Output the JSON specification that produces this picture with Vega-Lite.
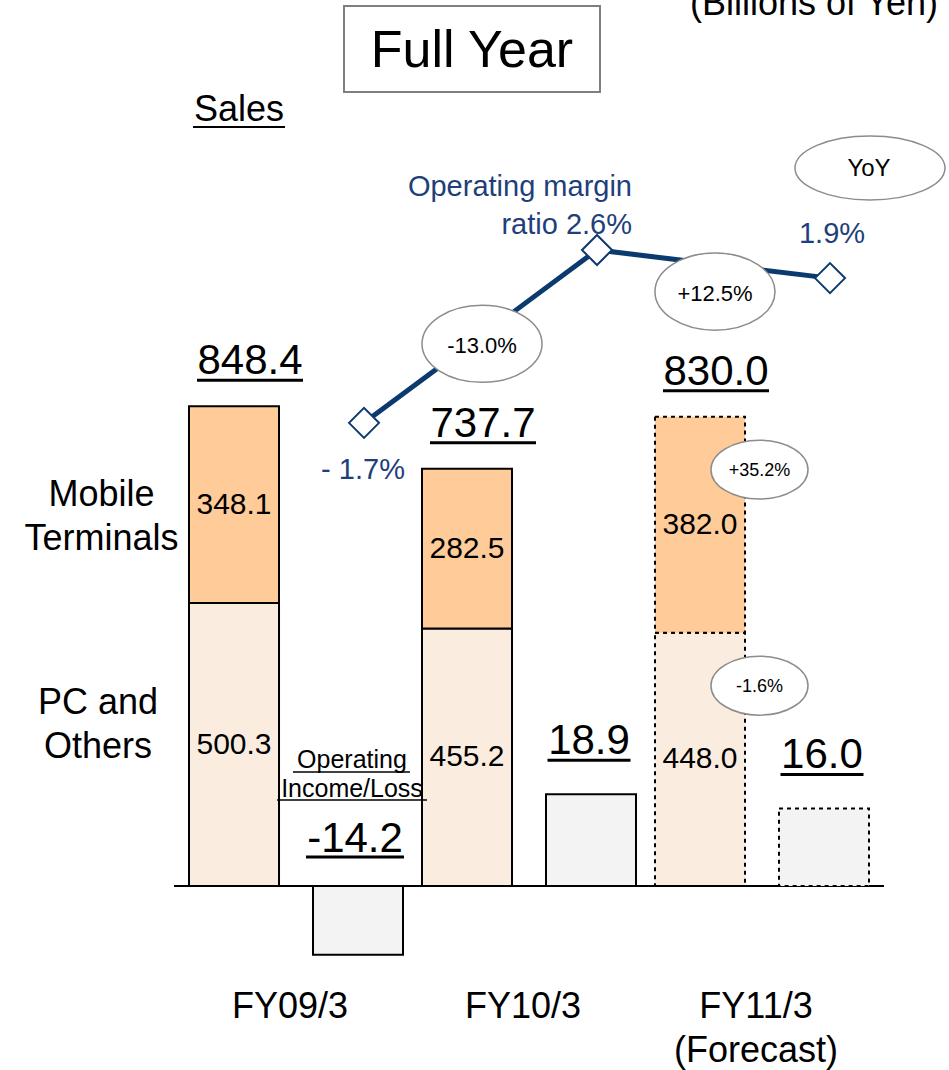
{
  "$schema": "https://vega.github.io/schema/vega-lite/v6.json",
  "width": 710,
  "height": 960,
  "autosize": {"type": "none"},
  "padding": {"left": 174, "top": 0, "right": 65, "bottom": 110},
  "background": "white",
  "config": {
    "font": "Liberation Sans",
    "view": {"stroke": null},
    "locale": {"number": {"decimal": ".", "thousands": ",", "grouping": [3], "currency": ["$", ""], "minus": "-"}}
  },
  "datasets": {
    "sales": [
      {"year": "FY09/3", "series": "Sales", "segment": "PC and\nOthers", "value": 500.3, "status": "Actual"},
      {"year": "FY09/3", "series": "Sales", "segment": "Mobile\nTerminals", "value": 348.1, "status": "Actual"},
      {"year": "FY10/3", "series": "Sales", "segment": "PC and\nOthers", "value": 455.2, "status": "Actual"},
      {"year": "FY10/3", "series": "Sales", "segment": "Mobile\nTerminals", "value": 282.5, "status": "Actual"},
      {"year": "FY11/3", "series": "Sales", "segment": "PC and\nOthers", "value": 448.0, "status": "Forecast", "yoy": "-1.6%"},
      {"year": "FY11/3", "series": "Sales", "segment": "Mobile\nTerminals", "value": 382.0, "status": "Forecast", "yoy": "+35.2%"}
    ],
    "totals": [
      {"year": "FY09/3", "total": 848.4, "status": "Actual"},
      {"year": "FY10/3", "total": 737.7, "status": "Actual", "yoy": "-13.0%"},
      {"year": "FY11/3", "total": 830.0, "status": "Forecast", "yoy": "+12.5%"}
    ],
    "income": [
      {"year": "FY09/3", "series": "Operating Income/Loss", "value": -14.2, "status": "Actual"},
      {"year": "FY10/3", "series": "Operating Income/Loss", "value": 18.9, "status": "Actual"},
      {"year": "FY11/3", "series": "Operating Income/Loss", "value": 16.0, "status": "Forecast"}
    ],
    "margin": [
      {"year": "FY09/3", "ratio": -1.7, "label": "- 1.7%"},
      {"year": "FY10/3", "ratio": 2.6, "label": "Operating margin\nratio 2.6%"},
      {"year": "FY11/3", "ratio": 1.9, "label": "1.9%"}
    ]
  },
  "resolve": {"scale": {"y": "independent"}},
  "layer": [
    {
      "layer": [
        {
          "data": {"name": "sales"},
          "transform": [{"stack": "value", "groupby": ["year"], "sort": [{"field": "segment", "order": "descending"}], "as": ["v0", "v1"]}],
          "mark": {"type": "bar", "stroke": "black", "strokeWidth": 2},
          "encoding": {
            "x": {"field": "year", "type": "nominal", "title": null, "sort": null,
              "scale": {"domain": ["FY09/3", "FY10/3", "FY11/3"], "paddingInner": 0.0815, "paddingOuter": 0.0644},
              "axis": {"domain": false, "ticks": false, "tickSize": 0, "grid": false, "labelAngle": 0, "labelFontSize": 36, "labelColor": "black", "labelPadding": 29, "labelLineHeight": 44, "labelOffset": -6, "labelLimit": 0,
                "labelExpr": "datum.value == 'FY11/3' ? ['FY11/3', '(Forecast)'] : datum.label"}},
            "xOffset": {"field": "series", "type": "nominal", "scale": {"domain": ["Sales", "Operating Income/Loss"], "paddingInner": 0.274, "paddingOuter": 0}},
            "y": {"field": "v0", "type": "quantitative", "scale": {"domain": [-130.86, 1566.75], "nice": false, "zero": false}, "axis": null},
            "y2": {"field": "v1"},
            "fill": {"field": "segment", "type": "nominal", "scale": {"domain": ["Mobile\nTerminals", "PC and\nOthers"], "range": ["#FFCC99", "#FAEDE0"]}, "legend": null},
            "strokeDash": {"field": "status", "type": "nominal", "scale": {"domain": ["Actual", "Forecast"], "range": [[1, 0], [4, 4]]}, "legend": null}
          }
        },
        {
          "data": {"values": [{"base": 0}]},
          "mark": {"type": "rule", "color": "black", "strokeWidth": 2},
          "encoding": {
            "y": {"field": "base", "type": "quantitative", "scale": {"domain": [-130.86, 1566.75], "nice": false, "zero": false}, "axis": null}
          }
        },
        {
          "data": {"name": "sales"},
          "transform": [
            {"stack": "value", "groupby": ["year"], "sort": [{"field": "segment", "order": "descending"}], "as": ["v0", "v1"]},
            {"fold": ["v0", "v1"], "as": ["edge", "pos"]}
          ],
          "mark": {"type": "text", "fontSize": 30, "baseline": "middle", "dx": -62},
          "encoding": {
            "x": {"field": "year", "type": "nominal", "title": null},
            "y": {"aggregate": "mean", "field": "pos", "type": "quantitative", "scale": {"domain": [-130.86, 1566.75], "nice": false, "zero": false}, "axis": null},
            "text": {"field": "value", "type": "quantitative", "format": ".1f"}
          }
        },
        {
          "data": {"name": "sales"},
          "transform": [{"filter": {"and": [{"field": "year", "equal": "FY09/3"}, {"field": "segment", "equal": "Mobile\nTerminals"}]}}],
          "mark": {"type": "text", "fontSize": 36, "baseline": "alphabetic", "lineBreak": "\n", "lineHeight": 44, "dx": -194.5},
          "encoding": {
            "x": {"field": "year", "type": "nominal", "title": null},
            "y": {"datum": 672.0, "type": "quantitative", "scale": {"domain": [-130.86, 1566.75], "nice": false, "zero": false}, "axis": null},
            "text": {"field": "segment", "type": "nominal"}
          }
        },
        {
          "data": {"name": "sales"},
          "transform": [{"filter": {"and": [{"field": "year", "equal": "FY09/3"}, {"field": "segment", "equal": "PC and\nOthers"}]}}],
          "mark": {"type": "text", "fontSize": 36, "baseline": "alphabetic", "lineBreak": "\n", "lineHeight": 44, "dx": -198},
          "encoding": {
            "x": {"field": "year", "type": "nominal", "title": null},
            "y": {"datum": 304.2, "type": "quantitative", "scale": {"domain": [-130.86, 1566.75], "nice": false, "zero": false}, "axis": null},
            "text": {"field": "segment", "type": "nominal"}
          }
        },
        {
          "data": {"name": "totals"},
          "mark": {"type": "text", "fontSize": 42, "baseline": "alphabetic", "dx": -46, "dy": -32},
          "encoding": {
            "x": {"field": "year", "type": "nominal", "title": null},
            "y": {"field": "total", "type": "quantitative", "scale": {"domain": [-130.86, 1566.75], "nice": false, "zero": false}, "axis": null},
            "text": {"field": "total", "type": "quantitative", "format": ".1f"}
          }
        },
        {
          "data": {"name": "totals"},
          "mark": {"type": "tick", "color": "black", "opacity": 1, "thickness": 3, "size": 106, "xOffset": -46, "yOffset": -26},
          "encoding": {
            "x": {"field": "year", "type": "nominal", "title": null},
            "y": {"field": "total", "type": "quantitative", "scale": {"domain": [-130.86, 1566.75], "nice": false, "zero": false}, "axis": null}
          }
        },
        {
          "data": {"name": "sales"},
          "transform": [
            {"stack": "value", "groupby": ["year"], "sort": [{"field": "segment", "order": "descending"}], "as": ["v0", "v1"]},
            {"filter": "isValid(datum.yoy)"}
          ],
          "mark": {"type": "point", "shape": "M-1,0A1,0.608,0,1,1,1,0A1,0.608,0,1,1,-1,0Z", "size": 9409, "filled": true, "fill": "white", "stroke": "#8C8C8C", "strokeWidth": 1.5, "opacity": 1, "xOffset": -2.5, "yOffset": 53},
          "encoding": {
            "x": {"field": "year", "type": "nominal", "title": null},
            "y": {"field": "v1", "type": "quantitative", "scale": {"domain": [-130.86, 1566.75], "nice": false, "zero": false}, "axis": null}
          }
        },
        {
          "data": {"name": "sales"},
          "transform": [
            {"stack": "value", "groupby": ["year"], "sort": [{"field": "segment", "order": "descending"}], "as": ["v0", "v1"]},
            {"filter": "isValid(datum.yoy)"}
          ],
          "mark": {"type": "text", "fontSize": 18, "baseline": "middle", "dx": -2.5, "dy": 54.5},
          "encoding": {
            "x": {"field": "year", "type": "nominal", "title": null},
            "y": {"field": "v1", "type": "quantitative", "scale": {"domain": [-130.86, 1566.75], "nice": false, "zero": false}, "axis": null},
            "text": {"field": "yoy", "type": "nominal"}
          }
        },
        {
          "data": {"values": [{"note": "Full Year"}]},
          "mark": {"type": "point", "shape": "M-1,-0.336H1V0.336H-1Z", "size": 65536, "filled": true, "fill": "white", "stroke": "#7F7F7F", "strokeWidth": 2, "opacity": 1, "xOffset": -57},
          "encoding": {
            "x": {"datum": "FY10/3", "type": "nominal"},
            "y": {"datum": 1480.1, "type": "quantitative", "scale": {"domain": [-130.86, 1566.75], "nice": false, "zero": false}, "axis": null}
          }
        },
        {
          "data": {"values": [{"note": "Full Year"}]},
          "mark": {"type": "text", "fontSize": 52, "baseline": "alphabetic", "dx": -57},
          "encoding": {
            "x": {"datum": "FY10/3", "type": "nominal"},
            "y": {"datum": 1448.3, "type": "quantitative", "scale": {"domain": [-130.86, 1566.75], "nice": false, "zero": false}, "axis": null},
            "text": {"field": "note", "type": "nominal"}
          }
        },
        {
          "data": {"values": [{"note": "(Billions of Yen)"}]},
          "mark": {"type": "text", "fontSize": 36, "baseline": "alphabetic", "dx": 52},
          "encoding": {
            "x": {"datum": "FY11/3", "type": "nominal"},
            "y": {"datum": 1540.2, "type": "quantitative", "scale": {"domain": [-130.86, 1566.75], "nice": false, "zero": false}, "axis": null},
            "text": {"field": "note", "type": "nominal"}
          }
        },
        {
          "data": {"values": [{"note": "Sales"}]},
          "mark": {"type": "text", "fontSize": 36, "baseline": "alphabetic", "dx": -57},
          "encoding": {
            "x": {"datum": "FY09/3", "type": "nominal"},
            "y": {"datum": 1352.8, "type": "quantitative", "scale": {"domain": [-130.86, 1566.75], "nice": false, "zero": false}, "axis": null},
            "text": {"field": "note", "type": "nominal"}
          }
        },
        {
          "data": {"values": [{"note": "Sales"}]},
          "mark": {"type": "tick", "color": "black", "opacity": 1, "thickness": 2, "size": 92, "xOffset": -57, "yOffset": 6},
          "encoding": {
            "x": {"datum": "FY09/3", "type": "nominal"},
            "y": {"datum": 1352.8, "type": "quantitative", "scale": {"domain": [-130.86, 1566.75], "nice": false, "zero": false}, "axis": null}
          }
        },
        {
          "data": {"values": [{"note": "Operating\nIncome/Loss"}]},
          "mark": {"type": "text", "fontSize": 25, "baseline": "alphabetic", "lineBreak": "\n", "lineHeight": 29, "dx": 56},
          "encoding": {
            "x": {"datum": "FY09/3", "type": "nominal"},
            "y": {"datum": 208.7, "type": "quantitative", "scale": {"domain": [-130.86, 1566.75], "nice": false, "zero": false}, "axis": null},
            "text": {"field": "note", "type": "nominal"}
          }
        },
        {
          "data": {"values": [{"note": "Operating"}]},
          "mark": {"type": "tick", "color": "black", "opacity": 1, "thickness": 1.5, "size": 117, "xOffset": 55.5, "yOffset": 4},
          "encoding": {
            "x": {"datum": "FY09/3", "type": "nominal"},
            "y": {"datum": 208.7, "type": "quantitative", "scale": {"domain": [-130.86, 1566.75], "nice": false, "zero": false}, "axis": null}
          }
        },
        {
          "data": {"values": [{"note": "Income/Loss"}]},
          "mark": {"type": "tick", "color": "black", "opacity": 1, "thickness": 1.5, "size": 150, "xOffset": 56, "yOffset": 32},
          "encoding": {
            "x": {"datum": "FY09/3", "type": "nominal"},
            "y": {"datum": 208.7, "type": "quantitative", "scale": {"domain": [-130.86, 1566.75], "nice": false, "zero": false}, "axis": null}
          }
        },
        {
          "data": {"values": [{"note": "YoY"}]},
          "mark": {"type": "point", "shape": "M-1,0A1,0.4267,0,1,1,1,0A1,0.4267,0,1,1,-1,0Z", "size": 22500, "filled": true, "fill": "white", "stroke": "#8C8C8C", "strokeWidth": 1.5, "opacity": 1, "xOffset": 108},
          "encoding": {
            "x": {"datum": "FY11/3", "type": "nominal"},
            "y": {"datum": 1269.7, "type": "quantitative", "scale": {"domain": [-130.86, 1566.75], "nice": false, "zero": false}, "axis": null}
          }
        },
        {
          "data": {"values": [{"note": "YoY"}]},
          "mark": {"type": "text", "fontSize": 24, "baseline": "middle", "dx": 107, "dy": 1.5},
          "encoding": {
            "x": {"datum": "FY11/3", "type": "nominal"},
            "y": {"datum": 1269.7, "type": "quantitative", "scale": {"domain": [-130.86, 1566.75], "nice": false, "zero": false}, "axis": null},
            "text": {"field": "note", "type": "nominal"}
          }
        }
      ]
    },
    {
      "layer": [
        {
          "data": {"name": "income"},
          "mark": {"type": "bar", "fill": "#F3F3F3", "stroke": "black", "strokeWidth": 2},
          "encoding": {
            "x": {"field": "year", "type": "nominal", "title": null},
            "xOffset": {"field": "series", "type": "nominal", "scale": {"domain": ["Sales", "Operating Income/Loss"], "paddingInner": 0.274, "paddingOuter": 0}},
            "y": {"field": "value", "type": "quantitative", "scale": {"domain": [-15.258, 182.68], "nice": false, "zero": false}, "axis": null},
            "y2": {"datum": 0},
            "strokeDash": {"field": "status", "type": "nominal", "scale": {"domain": ["Actual", "Forecast"], "range": [[1, 0], [4, 4]]}, "legend": null}
          }
        },
        {
          "data": {"name": "income"},
          "transform": [{"filter": {"field": "value", "gt": 0}}],
          "mark": {"type": "text", "fontSize": 42, "baseline": "alphabetic", "dx": 60, "dy": -40},
          "encoding": {
            "x": {"field": "year", "type": "nominal", "title": null},
            "y": {"field": "value", "type": "quantitative", "scale": {"domain": [-15.258, 182.68], "nice": false, "zero": false}, "axis": null},
            "text": {"field": "value", "type": "quantitative", "format": ".1f"}
          }
        },
        {
          "data": {"name": "income"},
          "transform": [{"filter": {"field": "value", "gt": 0}}],
          "mark": {"type": "tick", "color": "black", "opacity": 1, "thickness": 3, "size": 83, "xOffset": 60, "yOffset": -34},
          "encoding": {
            "x": {"field": "year", "type": "nominal", "title": null},
            "y": {"field": "value", "type": "quantitative", "scale": {"domain": [-15.258, 182.68], "nice": false, "zero": false}, "axis": null}
          }
        },
        {
          "data": {"name": "income"},
          "transform": [{"filter": {"field": "value", "lt": 0}}],
          "mark": {"type": "text", "fontSize": 42, "baseline": "alphabetic", "dx": 59, "dy": -34},
          "encoding": {
            "x": {"field": "year", "type": "nominal", "title": null},
            "y": {"datum": 0, "type": "quantitative", "scale": {"domain": [-15.258, 182.68], "nice": false, "zero": false}, "axis": null},
            "text": {"field": "value", "type": "quantitative", "format": ".1f"}
          }
        },
        {
          "data": {"name": "income"},
          "transform": [{"filter": {"field": "value", "lt": 0}}],
          "mark": {"type": "tick", "color": "black", "opacity": 1, "thickness": 3, "size": 98, "xOffset": 59, "yOffset": -29},
          "encoding": {
            "x": {"field": "year", "type": "nominal", "title": null},
            "y": {"datum": 0, "type": "quantitative", "scale": {"domain": [-15.258, 182.68], "nice": false, "zero": false}, "axis": null}
          }
        }
      ]
    },
    {
      "layer": [
        {
          "data": {"name": "margin"},
          "mark": {"type": "line", "color": "#0B3A6E", "strokeWidth": 5, "xOffset": 68},
          "encoding": {
            "x": {"field": "year", "type": "nominal", "title": null},
            "y": {"field": "ratio", "type": "quantitative", "scale": {"domain": [-15.062, 8.818], "nice": false, "zero": false}, "axis": null}
          }
        },
        {
          "data": {"name": "margin"},
          "mark": {"type": "point", "shape": "diamond", "size": 900, "filled": true, "fill": "white", "stroke": "#0B3A6E", "strokeWidth": 2, "opacity": 1, "xOffset": 68},
          "encoding": {
            "x": {"field": "year", "type": "nominal", "title": null},
            "y": {"field": "ratio", "type": "quantitative", "scale": {"domain": [-15.062, 8.818], "nice": false, "zero": false}, "axis": null}
          }
        },
        {
          "data": {"name": "margin"},
          "transform": [{"filter": {"field": "year", "equal": "FY09/3"}}],
          "mark": {"type": "text", "fontSize": 29, "color": "#1E3F7A", "baseline": "middle", "dx": 67, "dy": 47},
          "encoding": {
            "x": {"field": "year", "type": "nominal", "title": null},
            "y": {"field": "ratio", "type": "quantitative", "scale": {"domain": [-15.062, 8.818], "nice": false, "zero": false}, "axis": null},
            "text": {"field": "label", "type": "nominal"}
          }
        },
        {
          "data": {"name": "margin"},
          "transform": [{"filter": {"field": "year", "equal": "FY11/3"}}],
          "mark": {"type": "text", "fontSize": 29, "color": "#1E3F7A", "baseline": "middle", "dx": 70, "dy": -44},
          "encoding": {
            "x": {"field": "year", "type": "nominal", "title": null},
            "y": {"field": "ratio", "type": "quantitative", "scale": {"domain": [-15.062, 8.818], "nice": false, "zero": false}, "axis": null},
            "text": {"field": "label", "type": "nominal"}
          }
        },
        {
          "data": {"name": "margin"},
          "transform": [{"filter": {"field": "year", "equal": "FY10/3"}}],
          "mark": {"type": "text", "fontSize": 29, "color": "#1E3F7A", "baseline": "middle", "align": "right", "lineBreak": "\n", "lineHeight": 38, "dx": 103, "dy": -63},
          "encoding": {
            "x": {"field": "year", "type": "nominal", "title": null},
            "y": {"field": "ratio", "type": "quantitative", "scale": {"domain": [-15.062, 8.818], "nice": false, "zero": false}, "axis": null},
            "text": {"field": "label", "type": "nominal"}
          }
        }
      ]
    },
    {
      "layer": [
        {
          "data": {"name": "totals"},
          "transform": [{"filter": "isValid(datum.yoy)"}],
          "mark": {"type": "point", "shape": "M-1,0A1,0.642,0,1,1,1,0A1,0.642,0,1,1,-1,0Z", "size": 14400, "filled": true, "fill": "white", "stroke": "#8C8C8C", "strokeWidth": 1.5, "opacity": 1, "xOffset": -47, "yOffset": -125},
          "encoding": {
            "x": {"field": "year", "type": "nominal", "title": null},
            "y": {"field": "total", "type": "quantitative", "scale": {"domain": [-130.86, 1566.75], "nice": false, "zero": false}, "axis": null}
          }
        },
        {
          "data": {"name": "totals"},
          "transform": [{"filter": "isValid(datum.yoy)"}],
          "mark": {"type": "text", "fontSize": 22, "baseline": "middle", "dx": -47, "dy": -123},
          "encoding": {
            "x": {"field": "year", "type": "nominal", "title": null},
            "y": {"field": "total", "type": "quantitative", "scale": {"domain": [-130.86, 1566.75], "nice": false, "zero": false}, "axis": null},
            "text": {"field": "yoy", "type": "nominal"}
          }
        }
      ]
    }
  ]
}
